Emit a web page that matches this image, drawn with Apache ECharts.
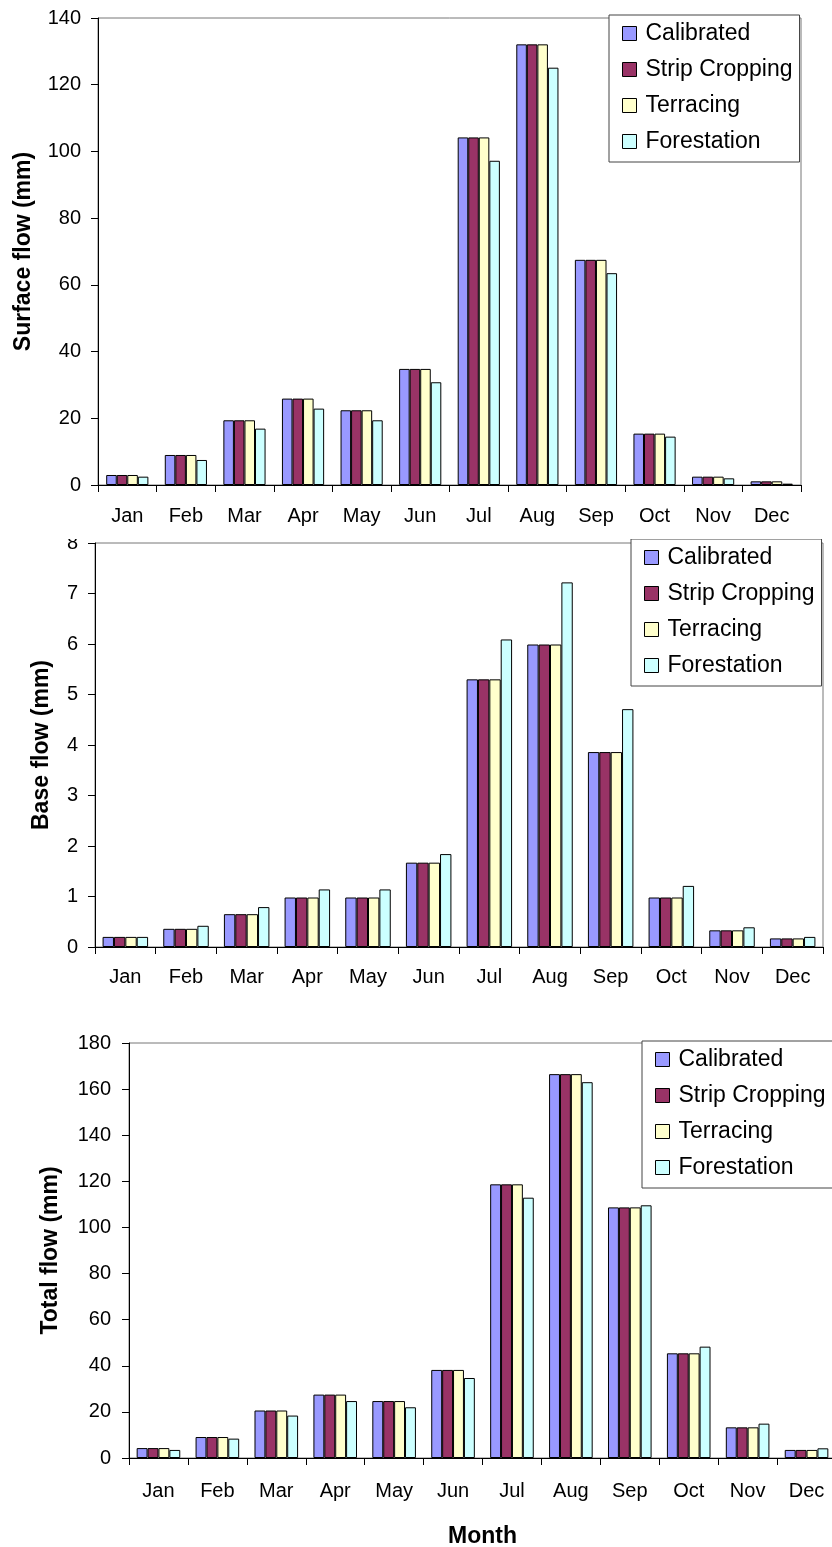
<!DOCTYPE html>
<html><head><meta charset="utf-8">
<script src="https://cdn.jsdelivr.net/npm/echarts@6/dist/echarts.min.js"></script>
<style>
html,body{margin:0;padding:0;background:#fff;width:832px;height:1547px;overflow:hidden;}
.c{position:absolute;left:0;width:832px;overflow:hidden;}
</style></head>
<body>
<div id="c1" class="c" style="top:0;height:538px"></div>
<div id="c2" class="c" style="top:539px;height:476px"></div>
<div id="c3" class="c" style="top:1015px;height:532px"></div>
<script>
const months = ['Jan','Feb','Mar','Apr','May','Jun','Jul','Aug','Sep','Oct','Nov','Dec'];
const seriesNames = ['Calibrated','Strip Cropping','Terracing','Forestation'];
const seriesColors = ['#9999FF','#993366','#FFFFCC','#CCFFFF'];

// Surface flow (mm)
const surfCalibrated = [3.0, 9.0, 19.4, 25.9, 22.4, 34.8, 104.2, 132.1, 67.5, 15.4, 2.5, 1.1];
const surfStrip      = [3.0, 9.0, 19.4, 25.9, 22.4, 34.8, 104.2, 132.1, 67.5, 15.4, 2.5, 1.1];
const surfTerrace    = [3.0, 9.0, 19.4, 25.9, 22.4, 34.8, 104.2, 132.1, 67.5, 15.4, 2.5, 1.1];
const surfForest     = [2.5, 7.5, 16.9, 22.9, 19.4, 30.8, 97.2, 125.1, 63.5, 14.5, 2.0, 0.4];

// Base flow (mm)
const baseCalibrated = [0.2, 0.36, 0.65, 0.98, 0.98, 1.67, 5.30, 5.99, 3.86, 0.98, 0.33, 0.17];
const baseStrip      = [0.2, 0.36, 0.65, 0.98, 0.98, 1.67, 5.30, 5.99, 3.86, 0.98, 0.33, 0.17];
const baseTerrace    = [0.2, 0.36, 0.65, 0.98, 0.98, 1.67, 5.30, 5.99, 3.86, 0.98, 0.33, 0.17];
const baseForest     = [0.2, 0.42, 0.79, 1.14, 1.14, 1.84, 6.09, 7.22, 4.71, 1.21, 0.39, 0.20];

// Total flow (mm)
const totalCalibrated = [4.3, 9.1, 20.6, 27.5, 24.7, 38.2, 118.7, 166.5, 108.7, 45.4, 13.3, 3.5];
const totalStrip      = [4.3, 9.1, 20.6, 27.5, 24.7, 38.2, 118.7, 166.5, 108.7, 45.4, 13.3, 3.5];
const totalTerrace    = [4.3, 9.1, 20.6, 27.5, 24.7, 38.2, 118.7, 166.5, 108.7, 45.4, 13.3, 3.5];
const totalForest     = [3.5, 8.4, 18.4, 24.7, 22.0, 34.7, 112.9, 163.0, 109.6, 48.3, 14.9, 4.2];

const FONT = "'Liberation Sans', Arial, sans-serif";

function makeOption(cfg) {
  return {
    animation: false,
    textStyle: { fontFamily: FONT },
    grid: { left: cfg.grid[0], top: cfg.grid[1], width: cfg.grid[2], height: cfg.grid[3],
            containLabel: false, outerBoundsMode: 'none',
            show: true, borderColor: '#777', borderWidth: 1, backgroundColor: '#fff' },
    legend: {
      orient: 'vertical', left: cfg.legend[0], top: cfg.legend[1],
      data: seriesNames, icon: 'rect', itemWidth: 14, itemHeight: 14, itemGap: 13,
      padding: [7, 7, 9, 13], backgroundColor: '#fff', borderColor: '#444', borderWidth: 1,
      itemStyle: { borderColor: '#000', borderWidth: 1 },
      textStyle: { fontFamily: FONT, fontSize: 23, color: '#000', padding: [0, 0, 0, 4] },
      selectedMode: false
    },
    xAxis: {
      type: 'category', data: months,
      axisLine: { lineStyle: { color: '#000', width: 1 } },
      axisTick: { show: true, length: 7, lineStyle: { color: '#000' } },
      axisLabel: { fontFamily: FONT, fontSize: 20, color: '#000', margin: cfg.xMargin },
      name: cfg.xName || '', nameLocation: 'middle', nameGap: cfg.xNameGap || 0,
      nameTextStyle: { fontFamily: FONT, fontSize: 23, fontWeight: 'bold', color: '#000' }
    },
    yAxis: {
      type: 'value', min: 0, max: cfg.yMax, interval: cfg.yInterval,
      name: cfg.yName, nameLocation: 'middle', nameGap: cfg.yNameGap,
      nameTextStyle: { fontFamily: FONT, fontSize: 23, fontWeight: 'bold', color: '#000' },
      axisLine: { show: true, lineStyle: { color: '#000', width: 1 } },
      axisTick: { show: true, length: 7, lineStyle: { color: '#000' } },
      axisLabel: { fontFamily: FONT, fontSize: 20, color: '#000', margin: cfg.yMargin },
      splitLine: { show: false }
    },
    series: cfg.data.map((d, i) => ({
      name: seriesNames[i], type: 'bar', data: d,
      barGap: '0%', barCategoryGap: cfg.catGap,
      itemStyle: { color: seriesColors[i], borderColor: '#000', borderWidth: 1 }
    }))
  };
}

echarts.init(document.getElementById('c1')).setOption(makeOption({
  grid: [98, 18, 703, 467], legend: [609, 15],
  yMax: 140, yInterval: 20, yName: 'Surface flow (mm)', yNameGap: 63, yMargin: 17, xMargin: 21,
  catGap: '28%', data: [surfCalibrated, surfStrip, surfTerrace, surfForest]
}));
echarts.init(document.getElementById('c2')).setOption(makeOption({
  grid: [95, 4, 728, 404], legend: [631, 0],
  yMax: 8, yInterval: 1, yName: 'Base flow (mm)', yNameGap: 42, yMargin: 17, xMargin: 20,
  catGap: '25%', data: [baseCalibrated, baseStrip, baseTerrace, baseForest]
}));
echarts.init(document.getElementById('c3')).setOption(makeOption({
  grid: [129, 28, 707, 415], legend: [642, 26],
  yMax: 180, yInterval: 20, yName: 'Total flow (mm)', yNameGap: 67, yMargin: 18, xMargin: 23,
  xName: 'Month', xNameGap: 67,
  catGap: '26%', data: [totalCalibrated, totalStrip, totalTerrace, totalForest]
}));
</script>
</body></html>
